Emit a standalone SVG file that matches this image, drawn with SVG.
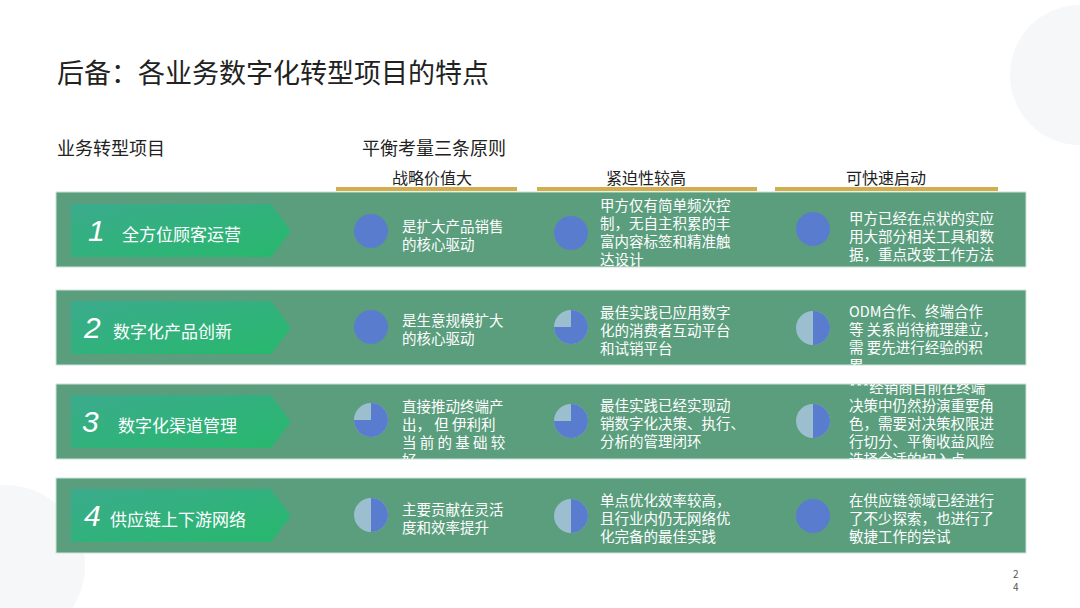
<svg xmlns="http://www.w3.org/2000/svg" xmlns:xlink="http://www.w3.org/1999/xlink" width="1080" height="608" viewBox="0 0 1080 608">
<style>
text{font-family:"Noto Sans CJK SC","Liberation Sans",sans-serif}
.band{fill:#5b9e7e;stroke:#cfe3d8;stroke-width:1}
.cell{fill:#fff;font-size:14.5px}
.lab{fill:#fff;font-size:17px}
.num{fill:#fff;font-size:30px;font-style:italic;font-family:"Liberation Sans",sans-serif}
.hd{fill:#222;font-size:16px;text-anchor:middle}
.gold{fill:#d4ad4c}
</style>
<defs>
<linearGradient id="g" x1="0" y1="0" x2="1" y2="1"><stop offset="0" stop-color="#3bab8d"/><stop offset="1" stop-color="#27b86c"/></linearGradient>
<g id="full"><circle r="17" fill="#5a7ccf"/></g>
<g id="tq"><circle r="17" fill="#9bbfcf"/><path d="M0 0L0 -17A17 17 0 1 1 -17 0Z" fill="#5a7ccf"/></g>
<g id="half"><circle r="17" fill="#9bbfcf"/><path d="M0 -17A17 17 0 0 1 0 17Z" fill="#5a7ccf"/></g>
<path id="chev" d="M0 0H200L220 27L200 53H0Z" fill="url(#g)"/>
<clipPath id="c1"><rect x="56" y="192" width="970" height="75"/></clipPath>
<clipPath id="c2"><rect x="56" y="290" width="970" height="75"/></clipPath>
<clipPath id="c3"><rect x="56" y="384" width="970" height="75"/></clipPath>
<clipPath id="c4"><rect x="56" y="478" width="970" height="75"/></clipPath>
</defs>
<rect width="1080" height="608" fill="#fff"/>
<circle cx="1080" cy="75" r="70" fill="#f6f7f8"/>
<circle cx="5" cy="565" r="80" fill="#f6f7f8"/>
<text x="57" y="83" font-size="27" fill="#222">后备：各业务数字化转型项目的特点</text>
<text x="57" y="155" font-size="18" fill="#222">业务转型项目</text>
<text x="362" y="155" font-size="18" fill="#222">平衡考量三条原则</text>
<text class="hd" x="432" y="184">战略价值大</text>
<text class="hd" x="646" y="184">紧迫性较高</text>
<text class="hd" x="886" y="184">可快速启动</text>
<rect class="gold" x="336" y="187" width="181" height="4"/>
<rect class="gold" x="537" y="187" width="220" height="4"/>
<rect class="gold" x="775" y="187" width="223" height="4"/>

<g id="row1">
<rect class="band" x="56" y="192" width="970" height="75"/>
<use xlink:href="#chev" x="71" y="204"/>
<text class="num" x="88" y="241">1</text><text class="lab" x="122" y="241">全方位顾客运营</text>
<use xlink:href="#full" x="371" y="231"/><use xlink:href="#full" x="571" y="233"/><use xlink:href="#full" x="813" y="229"/>
<g clip-path="url(#c1)">
<text class="cell" x="402"><tspan x="402" y="232">是扩大产品销售</tspan><tspan x="402" y="250">的核心驱动</tspan></text>
<text class="cell"><tspan x="600" y="211">甲方仅有简单频次控</tspan><tspan x="600" y="229">制，无自主积累的丰</tspan><tspan x="600" y="247">富内容标签和精准触</tspan><tspan x="600" y="265">达设计</tspan></text>
<text class="cell"><tspan x="849" y="224">甲方已经在点状的实应</tspan><tspan x="849" y="242">用大部分相关工具和数</tspan><tspan x="849" y="260">据，重点改变工作方法</tspan></text>
</g>
</g>

<g id="row2">
<rect class="band" x="56" y="290" width="970" height="75"/>
<use xlink:href="#chev" x="71" y="301"/>
<text class="num" x="84" y="338">2</text><text class="lab" x="113" y="338">数字化产品创新</text>
<use xlink:href="#full" x="371" y="327"/><use xlink:href="#tq" x="571" y="327"/><use xlink:href="#half" x="813" y="328"/>
<g clip-path="url(#c2)">
<text class="cell"><tspan x="402" y="326">是生意规模扩大</tspan><tspan x="402" y="344">的核心驱动</tspan></text>
<text class="cell"><tspan x="600" y="318">最佳实践已应用数字</tspan><tspan x="600" y="336">化的消费者互动平台</tspan><tspan x="600" y="354">和试销平台</tspan></text>
<text class="cell"><tspan x="849" y="317">ODM合作、终端合作</tspan><tspan x="849" y="335">等 关系尚待梳理建立，</tspan><tspan x="849" y="353">需 要先进行经验的积</tspan><tspan x="849" y="371">累</tspan></text>
</g>
</g>

<g id="row3">
<rect class="band" x="56" y="384" width="970" height="75"/>
<use xlink:href="#chev" x="71" y="395"/>
<text class="num" x="82" y="432">3</text><text class="lab" x="118" y="432">数字化渠道管理</text>
<use xlink:href="#tq" x="371" y="420"/><use xlink:href="#tq" x="571" y="421"/><use xlink:href="#half" x="813" y="421"/>
<g clip-path="url(#c3)">
<text class="cell"><tspan x="402" y="412">直接推动终端产</tspan><tspan x="402" y="430">出， 但 伊利利</tspan><tspan x="402" y="448">当 前 的 基 础 较</tspan><tspan x="402" y="466">好</tspan></text>
<text class="cell"><tspan x="600" y="411">最佳实践已经实现动</tspan><tspan x="600" y="429">销数字化决策、执行、</tspan><tspan x="600" y="447">分析的管理闭环</tspan></text>
<text class="cell"><tspan x="849" y="393">***经销商目前在终端</tspan><tspan x="849" y="411">决策中仍然扮演重要角</tspan><tspan x="849" y="429">色，需要对决策权限进</tspan><tspan x="849" y="447">行切分、平衡收益风险</tspan><tspan x="849" y="465">选择合适的切入点</tspan></text>
</g>
</g>

<g id="row4">
<rect class="band" x="56" y="478" width="970" height="75"/>
<use xlink:href="#chev" x="71" y="489"/>
<text class="num" x="84" y="526">4</text><text class="lab" x="110" y="526">供应链上下游网络</text>
<use xlink:href="#half" x="371" y="515"/><use xlink:href="#half" x="571" y="516"/><use xlink:href="#full" x="813" y="516"/>
<g clip-path="url(#c4)">
<text class="cell"><tspan x="402" y="515">主要贡献在灵活</tspan><tspan x="402" y="533">度和效率提升</tspan></text>
<text class="cell"><tspan x="600" y="506">单点优化效率较高，</tspan><tspan x="600" y="524">且行业内仍无网络优</tspan><tspan x="600" y="542">化完备的最佳实践</tspan></text>
<text class="cell"><tspan x="849" y="506">在供应链领域已经进行</tspan><tspan x="849" y="524">了不少探索，也进行了</tspan><tspan x="849" y="542">敏捷工作的尝试</tspan></text>
</g>
</g>
<g id="connectors"/>
<text x="1013" y="578" font-size="10" fill="#555" font-family="Liberation Sans,sans-serif">2</text>
<text x="1013" y="591" font-size="10" fill="#555" font-family="Liberation Sans,sans-serif">4</text>
</svg>
